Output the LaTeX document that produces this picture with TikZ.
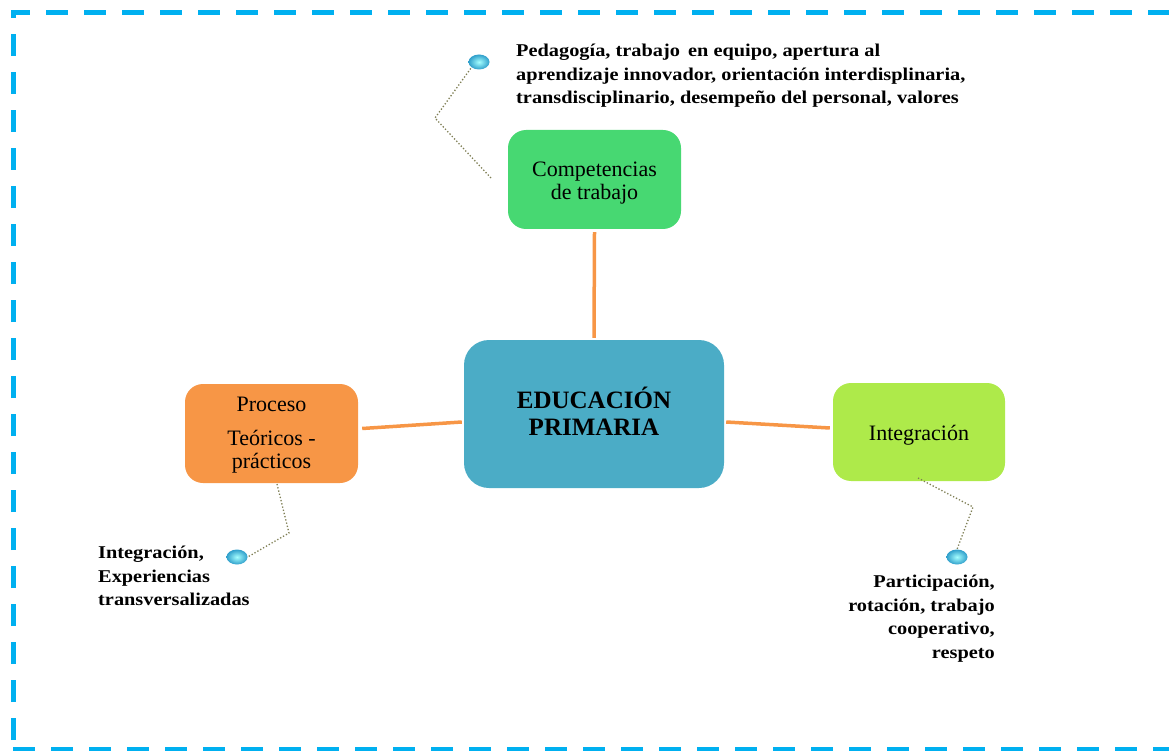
\documentclass[tikz,border=0pt]{standalone}
\usepackage{fontspec}
\setmainfont{Liberation Serif}
\newfontfamily\notefont[FakeStretch=1.13]{Liberation Serif}
\usetikzlibrary{shapes.geometric}
\definecolor{frameblue}{HTML}{00B0F0}
\definecolor{centerblue}{HTML}{4BACC6}
\definecolor{topgreen}{HTML}{47D872}
\definecolor{leftorange}{HTML}{F79646}
\definecolor{rightlime}{HTML}{AEEA4A}
\definecolor{linkorange}{HTML}{F79646}
\definecolor{dotline}{HTML}{7F7F55}
\definecolor{beadblue}{HTML}{2F9FCB}
\tikzset{
  box/.style={rounded corners=18pt, inner sep=0pt},
  boxtext/.style={align=center, inner sep=0pt, font=\fontsize{22}{23}\selectfont},
  link/.style={draw=linkorange, line width=3.5pt},
  callout/.style={draw=dotline, line width=1.3pt, dotted},
  bead/.style={ellipse, minimum width=21pt, minimum height=15pt, inner sep=0pt, draw=none,
    inner color=cyan!35!white, outer color=beadblue},
  note/.style={font=\notefont\bfseries\fontsize{18}{23.5}\selectfont, inner sep=0pt},
}
\begin{document}
\begin{tikzpicture}[x=1pt,y=-1pt]
\useasboundingbox (0,0) rectangle (1169,751);
\draw[frameblue, line width=5pt, dash pattern=on 22pt off 16pt, dash phase=-9pt] (13,749) -- (13,13) -- (1190,13);
\draw[frameblue, line width=5pt, dash pattern=on 22pt off 16pt] (13,749) -- (1190,749);

\node[box, fill=centerblue, minimum width=260pt, minimum height=148pt, rounded corners=25pt,
  label={[boxtext, font=\bfseries\fontsize{25}{27}\selectfont, yshift=3pt]center:EDUCACIÓN\\PRIMARIA}] (center) at (594,414) {};
\node[box, fill=topgreen, minimum width=173pt, minimum height=99pt,
  label={[boxtext, yshift=-4pt]center:Competencias\\de trabajo}] (comp) at (594.5,179.5) {};
\node[box, fill=leftorange, minimum width=173pt, minimum height=99pt,
  label={[boxtext, yshift=-2pt]center:Proceso\\[11pt]Teóricos -\\prácticos}] (proc) at (271.5,433.5) {};
\node[box, fill=rightlime, minimum width=172pt, minimum height=98pt,
  label={[boxtext, yshift=-3pt]center:Integración}] (integ) at (919,432) {};

\draw[link] ([yshift=-3pt]comp.south) -- ([yshift=2pt]center.north);
\draw[link] ([shift={(4,-5)}]proc.east) -- ([shift={(-2,8)}]center.west);
\draw[link] ([shift={(2,8)}]center.east) -- ([shift={(-3,-4)}]integ.west);

% top callout
\coordinate (t1) at (491,178);
\coordinate (t2) at (435,118);
\node[bead] (tb) at (479,62) {};
\draw[callout] (t1) -- (t2) -- (tb.south west);
\node[note, anchor=north west, align=left] (ttext) at (516,44)
  {Pedagogía, trabajo\, en equipo, apertura al\\aprendizaje innovador, orientación interdisplinaria,\\transdisciplinario, desempeño del personal, valores};

% left callout
\coordinate (l1) at (277,484);
\coordinate (l2) at (289,533);
\node[bead] (lb) at (237,557) {};
\draw[callout] (l1) -- (l2) -- (lb.east);
\node[note, anchor=north west, align=left] (ltext) at (98,546)
  {Integración,\\Experiencias\\transversalizadas};

% right callout
\coordinate (r1) at (918,478);
\coordinate (r2) at (973,507);
\node[bead] (rb) at (957,557) {};
\draw[callout] (r1) -- (r2) -- (rb.north);
\node[note, anchor=north east, align=right] (rtext) at (995,575)
  {Participación,\\rotación, trabajo\\cooperativo,\\respeto};
\end{tikzpicture}
\end{document}
